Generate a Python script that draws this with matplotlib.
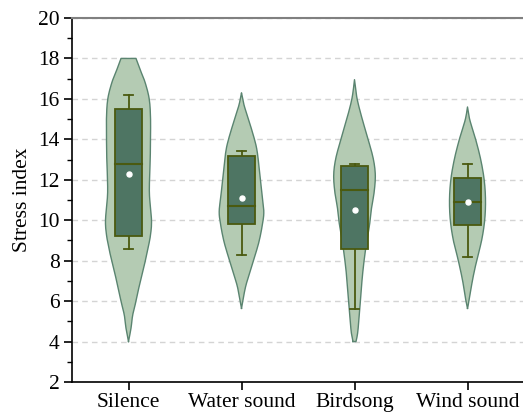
import numpy as np
import matplotlib.pyplot as plt
from matplotlib.ticker import MultipleLocator

plt.rcParams['font.family'] = ['Liberation Serif', 'DejaVu Serif']

groups = ['Silence', 'Water sound', 'Birdsong', 'Wind sound']

# box statistics
whisk_lo = [8.6, 8.3, 5.6, 8.2]
q1 = [9.2, 9.8, 8.6, 9.75]
median = [12.8, 10.7, 11.5, 10.9]
q3 = [15.5, 13.2, 12.7, 12.1]
whisk_hi = [16.2, 13.4, 12.8, 12.8]
means = [12.3, 11.1, 10.5, 10.9]

# violin outlines: levels and relative half widths (density profile)
silence_lv = [4.0, 4.66, 5.31, 6.0, 6.96, 8.03, 8.61, 9.27, 10.0, 11.2, 12.0, 13.0, 14.0, 15.1, 16.0, 16.8, 17.4, 18.0]
silence_w = [0, 2.5, 4.2, 7.5, 11.7, 17, 19.5, 22, 23, 21, 21, 21.7, 22, 22, 20.7, 16.7, 12, 7.5]
water_lv = [5.64, 6.63, 7.29, 8.12, 8.94, 9.76, 10.42, 11.25, 12.4, 13.39, 14.05, 15.04, 15.7, 16.3]
water_w = [0, 3.7, 7.5, 12.7, 17.5, 20.8, 22.3, 20.5, 18, 15.7, 12.7, 6.7, 2.5, 0]
bird_lv = [4.0, 4.49, 5.64, 7.29, 8.61, 9.76, 10.59, 11.41, 12.24, 13.06, 14.05, 15.04, 16.03, 16.95]
bird_w = [1.5, 3.3, 5.3, 8, 11.2, 15, 17, 19.7, 20.8, 18.7, 13.3, 7.5, 2.5, 0]
wind_lv = [5.64, 6.05, 7.04, 8.03, 9.02, 10.01, 11.0, 11.99, 12.98, 13.97, 14.96, 15.6]
wind_w = [0, 1.7, 5, 9.3, 14.2, 17.2, 18, 16.7, 13.3, 8.3, 2.3, 0]

profiles = [(silence_lv, silence_w), (water_lv, water_w), (bird_lv, bird_w), (wind_lv, wind_w)]


def smooth_outline(lv, w, n=10):
    # catmull-rom through the read points, only to draw a rounded outline
    p = np.column_stack([lv, w])
    p = np.vstack([p[0], p, p[-1]])
    out = []
    for k in range(1, len(p) - 2):
        p0, p1, p2, p3 = p[k - 1], p[k], p[k + 1], p[k + 2]
        for t in np.linspace(0, 1, n, endpoint=False):
            t2, t3 = t * t, t * t * t
            out.append(0.5 * ((2 * p1) + (-p0 + p2) * t +
                              (2 * p0 - 5 * p1 + 4 * p2 - p3) * t2 +
                              (-p0 + 3 * p1 - 3 * p2 + p3) * t3))
    out.append(p[-2])
    out = np.array(out)
    return out[:, 0], np.clip(out[:, 1], 0, None)


fig = plt.figure(figsize=(5.23, 4.16), dpi=100)
ax = fig.add_axes([72/523, 34/416, 452/523, 364/416])

violin_fill = '#b4cbb3'
violin_edge = '#5a8470'
box_fill = '#4e7563'
box_edge = '#4a5a10'
scale = 1/113.0

for i, (lv, w) in enumerate(profiles):
    x = i + 1
    yy, ww = smooth_outline(lv, w)
    ww = ww * scale
    ax.fill_betweenx(yy, x - ww, x + ww, facecolor=violin_fill, edgecolor='none', zorder=2)
    xs = np.concatenate([x - ww, (x + ww)[::-1], [(x - ww)[0]]])
    ys = np.concatenate([yy, yy[::-1], [yy[0]]])
    ax.plot(xs, ys, color=violin_edge, lw=1.0, zorder=3)

bw = 0.12
cw = 0.037
for i in range(len(groups)):
    x = i + 1
    ax.plot([x, x], [whisk_lo[i], q1[i]], color=box_edge, lw=1.3, zorder=4)
    ax.plot([x, x], [q3[i], whisk_hi[i]], color=box_edge, lw=1.3, zorder=4)
    ax.plot([x - cw, x + cw], [whisk_lo[i]] * 2, color=box_edge, lw=1.3, zorder=4)
    ax.plot([x - cw, x + cw], [whisk_hi[i]] * 2, color=box_edge, lw=1.3, zorder=4)
    ax.add_patch(plt.Rectangle((x - bw, q1[i]), 2 * bw, q3[i] - q1[i],
                               facecolor=box_fill, edgecolor=box_edge, lw=1.3, zorder=5))
    ax.plot([x - bw, x + bw], [median[i]] * 2, color=box_edge, lw=1.5, zorder=6)
    ax.plot(x, means[i], 'o', color='white', ms=3.6, zorder=7)

ax.set_xlim(0.5, 4.5)
ax.set_ylim(2, 20)
ax.set_xticks(range(1, len(groups) + 1))
ax.set_xticklabels(groups, fontsize=15.5)
ax.yaxis.set_major_locator(MultipleLocator(2))
ax.yaxis.set_minor_locator(MultipleLocator(1))
ax.tick_params(axis='y', labelsize=15.5, length=6, width=1.2, pad=3)
ax.tick_params(axis='y', which='minor', length=3.5, width=1.0)
ax.tick_params(axis='x', length=6, width=1.2, pad=2)
ax.set_ylabel('Stress index', fontsize=15.5, labelpad=4)

ax.grid(axis='y', color='#d4d4d4', ls=(0, (4, 3)), lw=1.0, zorder=0)
ax.set_axisbelow(True)
ax.spines['right'].set_visible(False)
ax.spines['top'].set_color('#808080')
ax.spines['top'].set_linewidth(1.5)
ax.spines['left'].set_linewidth(1.2)
ax.spines['bottom'].set_linewidth(1.2)

plt.savefig('out.png', dpi=100)
